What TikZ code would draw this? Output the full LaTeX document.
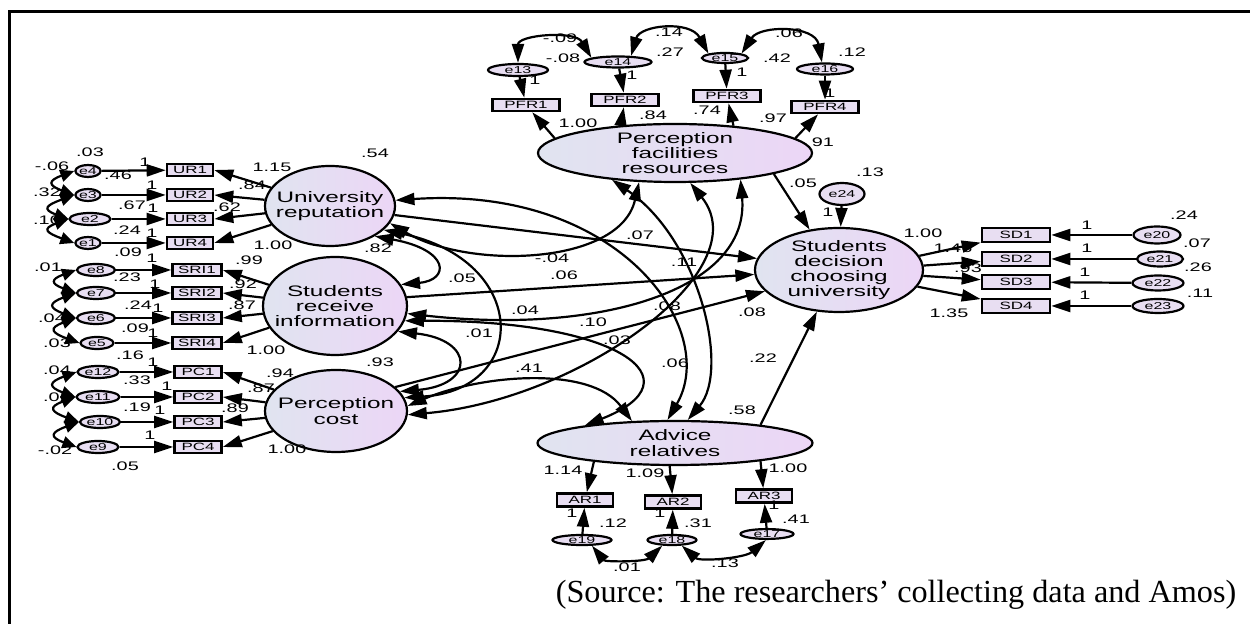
\documentclass[tikz,border=0pt]{standalone}
\usepackage{fontspec}
\setmainfont{Liberation Serif}
\newfontfamily\amos{Liberation Sans}[FakeStretch=1.6]
\usetikzlibrary{arrows.meta,shapes.geometric}

\definecolor{latL}{RGB}{224,228,240}
\definecolor{latR}{RGB}{236,214,246}
\definecolor{boxF}{RGB}{232,222,242}

\tikzset{
  lat/.style={ellipse, draw, line width=1.1pt, left color=latL, right color=latR, inner sep=0pt},
  lattext/.style={align=center, inner sep=0pt, font=\amos\fontsize{7.6}{7.6}\selectfont},
  obs/.style={rectangle, draw, line width=1.3pt, fill=boxF, inner sep=0pt, minimum height=6pt, font=\amos\fontsize{5.3}{5.3}\selectfont},
  err/.style={ellipse, draw, line width=1.1pt, fill=boxF, inner sep=0pt, minimum height=6pt, font=\amos\fontsize{5}{5}\selectfont},
  num/.style={inner sep=0pt, font=\amos\fontsize{6.2}{6.2}\selectfont},
  arr/.style={-{Triangle[length=9.5pt,width=6pt]}, line width=1.1pt},
  cov/.style={{Triangle[length=9.5pt,width=6pt]}-{Triangle[length=9.5pt,width=6pt]}, line width=1.1pt},
  smallcov/.style={{Triangle[length=7pt,width=6pt]}-{Triangle[length=7pt,width=6pt]}, line width=1.1pt},
}

\begin{document}
\begin{tikzpicture}[x=0.5pt, y=-0.5pt]
    \useasboundingbox (0,0) rectangle (1250,624);
    % Frame
    \draw[line width=1.25pt] (9.5,624) |- (1250,11.5);

    % Latent variables
    \node[lat, minimum width=65pt, minimum height=40pt] (UR) at (330,206) {};
    \node[lattext] (URt) at (UR) {University\\reputation};
    \node[lat, minimum width=72pt, minimum height=49pt] (SRI) at (335,306) {};
    \node[lattext] (SRIt) at (SRI) {Students\\receive\\information};
    \node[lat, minimum width=71pt, minimum height=41pt] (PC) at (336,411) {};
    \node[lattext] (PCt) at (PC) {Perception\\cost};
    \node[lat, minimum width=137pt, minimum height=29pt] (PFR) at (675,153) {};
    \node[lattext] (PFRt) at (PFR) {Perception\\facilities\\resources};
    \node[lat, minimum width=84pt, minimum height=42pt] (SD) at (839,270) {};
    \node[lattext] (SDt) at (SD) {Students\\decision\\choosing\\university};
    \node[lat, minimum width=137.5pt, minimum height=22pt] (AR) at (675,443) {};
    \node[lattext] (ARt) at (AR) {Advice\\relatives};

    % Observed variables, left
    \node[obs, minimum width=23pt] (UR1) at (190,170) {UR1};
    \node[obs, minimum width=23pt] (UR2) at (190,195) {UR2};
    \node[obs, minimum width=23pt] (UR3) at (190,219) {UR3};
    \node[obs, minimum width=23pt] (UR4) at (190,243) {UR4};
    \node[obs, minimum width=24.5pt] (SRI1) at (197,270) {SRI1};
    \node[obs, minimum width=24.5pt] (SRI2) at (197,293) {SRI2};
    \node[obs, minimum width=24.5pt] (SRI3) at (197,318) {SRI3};
    \node[obs, minimum width=24.5pt] (SRI4) at (197,343) {SRI4};
    \node[obs, minimum width=23.5pt] (PC1) at (198,372) {PC1};
    \node[obs, minimum width=23.5pt] (PC2) at (198,397) {PC2};
    \node[obs, minimum width=23.5pt] (PC3) at (198,422) {PC3};
    \node[obs, minimum width=23.5pt] (PC4) at (198,447) {PC4};

    % Errors, left
    \node[err, minimum width=11.5pt] (e4) at (88,171) {e4};
    \node[err, minimum width=11.5pt] (e3) at (88,195) {e3};
    \node[err, minimum width=20.5pt] (e2) at (90,219) {e2};
    \node[err, minimum width=11.5pt] (e1) at (88,243) {e1};
    \node[err, minimum width=19pt] (e8) at (96,270) {e8};
    \node[err, minimum width=19pt] (e7) at (96,293) {e7};
    \node[err, minimum width=19pt] (e6) at (96,318) {e6};
    \node[err, minimum width=16.5pt] (e5) at (97,343) {e5};
    \node[err, minimum width=20.5pt] (e12) at (98,372) {e12};
    \node[err, minimum width=21.5pt] (e11) at (98,397) {e11};
    \node[err, minimum width=20pt] (e10) at (100,422) {e10};
    \node[err, minimum width=20.5pt] (e9) at (98,447) {e9};

    % Top block
    \node[obs, minimum width=33.5pt] (PFR1) at (526,105) {PFR1};
    \node[obs, minimum width=33.5pt] (PFR2) at (625,100) {PFR2};
    \node[obs, minimum width=33.5pt] (PFR3) at (727,96) {PFR3};
    \node[obs, minimum width=33.5pt] (PFR4) at (825,107) {PFR4};
    \node[err, minimum width=30pt] (e13) at (518,70) {e13};
    \node[err, minimum width=33.5pt, minimum height=5.5pt] (e14) at (618,62) {e14};
    \node[err, minimum width=23pt, minimum height=5pt] (e15) at (725,58) {e15};
    \node[err, minimum width=28pt, minimum height=5.5pt] (e16) at (825,69) {e16};

    % Right block
    \node[obs, minimum width=34pt, minimum height=7pt] (SD1) at (1016,235) {SD1};
    \node[obs, minimum width=34pt, minimum height=7pt] (SD2) at (1016,259) {SD2};
    \node[obs, minimum width=34pt, minimum height=7pt] (SD3) at (1016,282) {SD3};
    \node[obs, minimum width=34pt, minimum height=7pt] (SD4) at (1016,306) {SD4};
    \node[err, minimum width=23.5pt, minimum height=8.5pt] (e20) at (1157,235) {e20};
    \node[err, minimum width=23pt, minimum height=7.5pt] (e21) at (1160,259) {e21};
    \node[err, minimum width=25.5pt, minimum height=7.5pt] (e22) at (1158,283) {e22};
    \node[err, minimum width=25.5pt, minimum height=7pt] (e23) at (1158,306) {e23};
    \node[err, minimum width=22.5pt, minimum height=11pt] (e24) at (842,194) {e24};

    % Bottom block
    \node[obs, minimum width=28pt, minimum height=6.5pt] (AR1) at (585,500) {AR1};
    \node[obs, minimum width=28pt, minimum height=6.5pt] (AR2) at (673,502) {AR2};
    \node[obs, minimum width=28pt, minimum height=6.5pt] (AR3) at (764,496) {AR3};
    \node[err, minimum width=29.5pt, minimum height=5pt] (e19) at (582,540) {e19};
    \node[err, minimum width=24.5pt, minimum height=5pt] (e18) at (672,540) {e18};
    \node[err, minimum width=26.5pt, minimum height=4.5pt] (e17) at (767,534) {e17};

    % Measurement arrows, left
    \foreach \e/\b/\l in {e4/UR1/UR, e3/UR2/UR, e2/UR3/UR, e1/UR4/UR,
        e8/SRI1/SRI, e7/SRI2/SRI, e6/SRI3/SRI, e5/SRI4/SRI,
        e12/PC1/PC, e11/PC2/PC, e10/PC3/PC, e9/PC4/PC}
      {\draw[arr] (\e) -- (\b); \draw[arr] (\l) -- (\b.east);}
    % Error covariances, left
    \foreach \a/\b in {e4/e3, e3/e2, e2/e1, e8/e7, e7/e6, e6/e5, e12/e11, e11/e10, e10/e9}
      \draw[smallcov] (\a.west) to[out=200, in=160, looseness=3] (\b.west);

    % Measurement arrows, top
    \draw[arr] (e13) -- (PFR1);
    \draw[arr] (e14) -- (PFR2);
    \draw[arr] (e15) -- (PFR3);
    \draw[arr] (e16) -- (PFR4);
    \draw[arr] (PFR.173) -- (PFR1);
    \draw[arr] (PFR.153) -- (PFR2);
    \draw[arr] (PFR.25) -- (PFR3);
    \draw[arr] (PFR.7) -- (PFR4);
    \draw[cov] (e13.north) .. controls (518,35) and (575,30) .. (e14.171);
    \draw[cov] (e14.25) .. controls (640,25) and (690,20) .. (e15.165);
    \draw[cov] (e15.15) .. controls (760,25) and (815,25) .. (e16.115);

    % Measurement arrows, right
    \draw[arr] (SD.10) -- (SD1);
    \draw[arr] (SD.3) -- (SD2);
    \draw[arr] (SD.-4) -- (SD3);
    \draw[arr] (SD.-12) -- (SD4);
    \draw[arr] (e20) -- (SD1);
    \draw[arr] (e21) -- (SD2);
    \draw[arr] (e22) -- (SD3);
    \draw[arr] (e23) -- (SD4);
    \draw[arr] (e24) -- (SD);

    % Measurement arrows, bottom
    \draw[arr] (AR.-167) -- (AR1);
    \draw[arr] (AR.-103) -- (AR2);
    \draw[arr] (AR.-12) -- (AR3);
    \draw[arr] (e19) -- (AR1);
    \draw[arr] (e18) -- (AR2);
    \draw[arr] (e17) -- (AR3);
    \draw[cov] (e19.-30) .. controls (605,562) and (645,562) .. (e18.-150);
    \draw[cov] (e18.-30) .. controls (700,562) and (745,558) .. (e17.-100);

    % Paths to the decision
    \draw[arr] (UR.-8) -- (SD.172);
    \draw[arr] (SRI.7) -- (SD.-177);
    \draw[arr] (PC.22) -- (SD.-164);
    \draw[arr] (AR.12) -- (SD.-118);
    \draw[arr] (PFR.-12) -- (SD.126);

    % Covariances between the factors
    \draw[cov] (UR.-34) .. controls (450,250) and (450,280) .. (SRI.18);
    \draw[cov] (UR.-24) .. controls (530,260) and (530,390) .. (PC.11);
    \draw[cov] (SRI.-22) .. controls (475,340) and (475,385) .. (PC.17);
    \draw[cov] (UR.-16) .. controls (470,270) and (620,265) .. (PFR.-141);
    \draw[cov] (SRI.-6) .. controls (600,335) and (750,290) .. (PFR.-22);
    \draw[cov] (PC.-3) .. controls (580,400) and (760,270) .. (PFR.-63);
    \draw[cov] (PFR.-157) .. controls (700,240) and (730,370) .. (AR.61);
    \draw[cov] (UR.5) .. controls (620,185) and (720,330) .. (AR.108);
    \draw[cov] (SRI.-12) .. controls (620,320) and (700,380) .. (AR.169);
    \draw[cov] (PC.4) .. controls (480,375) and (590,365) .. (AR.153);

    % Estimates, left
    \foreach \x/\y/\t [count=\i] in {90/152/.03, 52/166/-.06, 145/162/1, 118/175/.46,
        47/192/.32, 152/185/1, 132/205/.67, 153/208/1, 47/220/.10, 127/230/.24,
        152/233/1, 128/252/.09, 48/267/.01, 152/258/1, 127/277/.23, 155/284/1,
        138/305/.24, 158/308/1, 52/318/.04, 135/328/.09, 153/333/1, 57/343/.03,
        130/355/.16, 153/362/1, 57/370/.04, 137/380/.33, 167/386/1, 57/397/.02,
        137/407/.19, 160/410/1, 150/435/1, 55/450/-.02, 125/466/.05}
      \node[num] (l\i) at (\x,\y) {\t};
    % Estimates, factors
    \foreach \x/\y/\t [count=\i] in {272/167/1.15, 252/185/.84, 227/207/.62, 273/245/1.00,
        375/153/.54, 249/260/.99, 243/284/.92, 242/305/.87, 266/350/1.00,
        378/248/.82, 380/362/.93, 280/373/.94, 261/388/.87, 235/408/.89,
        287/449/1.00, 462/278/.05, 479/333/.01, 525/310/.04, 529/368/.41,
        552/258/-.04, 564/275/.06, 640/235/.07, 684/262/.11, 667/306/.08,
        752/312/.08, 593/322/.10, 617/340/.03, 675/363/.06, 763/358/.22}
      \node[num] (c\i) at (\x,\y) {\t};
    % Estimates, top
    \foreach \x/\y/\t [count=\i] in {560/38/-.09, 563/58/-.08, 669/32/.14, 670/52/.27,
        789/33/.06, 777/58/.42, 852/52/.12, 535/80/1, 632/75/1, 742/72/1, 830/93/1,
        578/123/1.00, 653/115/.84, 707/110/.74, 773/118/.97, 823/142/91,
        870/172/.13, 803/183/.05, 828/212/1}
      \node[num] (t\i) at (\x,\y) {\t};
    % Estimates, right
    \foreach \x/\y/\t [count=\i] in {923/233/1.00, 953/248/1.46, 968/268/.93, 949/313/1.35,
        1087/225/1, 1087/248/1, 1085/272/1, 1085/295/1,
        1184/215/.24, 1197/243/.07, 1198/267/.26, 1200/293/.11}
      \node[num] (r\i) at (\x,\y) {\t};
    % Estimates, bottom
    \foreach \x/\y/\t [count=\i] in {742/410/.58, 563/470/1.14, 645/473/1.09, 788/468/1.00,
        572/513/1, 660/513/1, 774/505/1, 613/523/.12, 698/523/.31, 796/519/.41,
        627/567/.01, 725/563/.13}
      \node[num] (b\i) at (\x,\y) {\t};

    % Source
    \node[inner sep=0pt, font=\fontsize{16.1}{16.1}\selectfont] (src) at (896,595)
        {(Source: The researchers' collecting data and Amos)};
\end{tikzpicture}
\end{document}
